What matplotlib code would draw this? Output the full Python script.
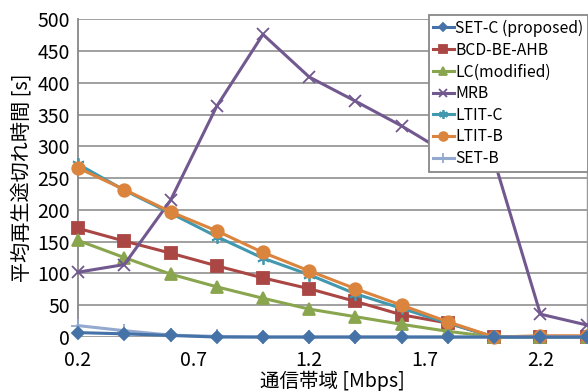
import matplotlib
matplotlib.use("Agg")
import matplotlib.pyplot as plt
import numpy as np

# bandwidth [Mbps]
bandwidth = [0.2, 0.4, 0.6, 0.8, 1.0, 1.2, 1.4, 1.6, 1.8, 2.0, 2.2, 2.4]

set_c = [7, 5, 2.5, 0, 0, 0, 0, 0, 0, 0, 0, 0]
bcd_be_ahb = [171, 151, 132, 112, 93, 76, 56, 35, 22, 0, 0, 0]
lc_modified = [152, 125, 99, 79, 61, 44, 32, 20, 9, 0, 0, 0]
mrb = [102, 114, 215, 363, 476, 409, 371, 332, 288, 278, 36, 19]
ltit_c = [272, 231, 195, 158, 124, 98, 68, 45, 22, 0, 0, 0]
ltit_b = [266, 232, 197, 167, 133, 104, 76, 50, 24, 0, 2, 2]
set_b = [18, 10, 3, 1, 0, 0, 0, 0, 0, 0, 0, 0]

series = [
    ("SET-C (proposed)", set_c, "#4572A7", "D", 6),
    ("BCD-BE-AHB", bcd_be_ahb, "#AA4643", "s", 8),
    ("LC(modified)", lc_modified, "#89A54E", "^", 8),
    ("MRB", mrb, "#71588F", "x", 9),
    ("LTIT-C", ltit_c, "#4198AF", (6, 2, 0), 9),
    ("LTIT-B", ltit_b, "#DB843D", "o", 9),
    ("SET-B", set_b, "#93A9CF", "+", 10),
]

plt.rcParams["font.family"] = ["Liberation Sans Narrow", "Noto Sans CJK JP", "DejaVu Sans"]

fig = plt.figure(figsize=(5.88, 3.91), dpi=100)
ax = fig.add_axes([0.1327, 0.138, 0.865, 0.813])

zorders = [9, 3, 4, 5, 6, 7, 8]
for (label, vals, color, marker, ms), z in zip(series, zorders):
    ax.plot(bandwidth, vals, color=color, marker=marker, markersize=ms,
            linewidth=2.2, label=label, zorder=z, markeredgewidth=1.3,
            clip_on=False)

ax.set_xlim(0.2, 2.4)
ax.set_ylim(0, 500)
ax.set_xticks([0.2, 0.7, 1.2, 1.7, 2.2])
ax.set_xticklabels(["0.2", "0.7", "1.2", "1.7", "2.2"])
ax.set_yticks(np.arange(0, 501, 50))
ax.tick_params(axis="both", labelsize=14, length=0)
ax.tick_params(axis="y", pad=6)
ax.tick_params(axis="x", pad=9)
ax.yaxis.grid(True, color="#999999", linewidth=1.3)
ax.set_axisbelow(True)

for side in ["top", "bottom"]:
    ax.spines[side].set_visible(False)
ax.spines["left"].set_color("#888888")
ax.spines["left"].set_linewidth(1.3)
ax.spines["right"].set_color("#999999")
ax.spines["right"].set_linewidth(1.0)

ax.set_xlabel("通信帯域 [Mbps]", fontsize=14, family=["Noto Sans CJK JP"], labelpad=0)
ax.set_ylabel("平均再生途切れ時間 [s]", fontsize=14.5, family=["Noto Sans CJK JP"], labelpad=3)

leg = ax.legend(loc="upper right", bbox_to_anchor=(1.003, 1.013), borderaxespad=0,
                handlelength=1.3, handletextpad=0.1, labelspacing=0.3,
                borderpad=0.3, markerscale=0.7, fancybox=False, framealpha=1,
                prop={"family": ["Noto Sans CJK JP"], "size": 11.3})
leg.get_frame().set_edgecolor("#888888")
leg.get_frame().set_linewidth(1.3)
leg.set_zorder(20)

fig.savefig("out.png", dpi=100)
